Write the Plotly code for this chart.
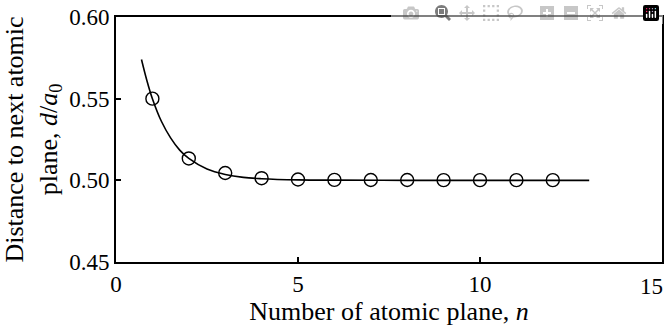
import plotly.graph_objects as go

# Measured points (open circles)
n_points = [1, 2, 3, 4, 5, 6, 7, 8, 9, 10, 11, 12]
d_points = [0.550, 0.5134, 0.5045, 0.5013, 0.5005, 0.5003, 0.5002, 0.5002, 0.5001, 0.5001, 0.5001, 0.5001]

# Fitted curve, values
n_curve = [0.7, 0.85, 1.0, 1.25, 1.5, 1.75, 2.0, 2.5, 3.0, 3.5, 4.0, 5.0, 6.0, 8.0, 10.0, 13.0]
d_curve = [0.574, 0.561, 0.550, 0.536, 0.526, 0.5185, 0.5134, 0.5069, 0.5036, 0.5018, 0.5010, 0.5003, 0.5001, 0.5000, 0.5000, 0.5000]

x_range = [0, 15]
x_ticks = [0, 5, 10]
x_ticktext = ["0", "5", "10"]
# the last x label sits at the right edge of the picture, right-aligned to its tick
x_edge_tick = 15
x_edge_text = "15"
y_ticks = [0.45, 0.50, 0.55, 0.60]
y_ticktext = ["0.45", "0.50", "0.55", "0.60"]

FONT = "Liberation Serif"
TICK_SIZE = 23
TITLE_SIZE = 26

fig = go.Figure()
fig.add_trace(go.Scatter(x=n_curve, y=d_curve, mode="lines", line=dict(color="black", width=1.6, shape="spline"),
                         hoverinfo="skip", showlegend=False))
fig.add_trace(go.Scatter(x=n_points, y=d_points, mode="markers",
                         marker=dict(symbol="circle-open", size=13, color="black", line=dict(width=1.4, color="black")),
                         showlegend=False))

fig.update_layout(
    width=665, height=335,
    margin=dict(l=116, r=3, t=17, b=73),
    paper_bgcolor="white", plot_bgcolor="white",
    font=dict(family=FONT, size=TICK_SIZE, color="black"),
)
fig.update_xaxes(
    range=x_range, tickvals=x_ticks, ticktext=x_ticktext,
    showline=True, linecolor="black", linewidth=2, mirror=True,
    ticks="inside", ticklen=5, tickwidth=1.5, tickcolor="black",
    showgrid=False, zeroline=False, automargin=False,
    tickfont=dict(family=FONT, size=TICK_SIZE, color="black"),
    title=dict(text="Number of atomic plane, <i>n</i>", font=dict(family=FONT, size=TITLE_SIZE, color="black"), standoff=6),
)
fig.add_annotation(
    x=x_edge_tick, xref="x", y=0, yref="paper", text=x_edge_text, showarrow=False,
    xanchor="right", yanchor="middle", xshift=3, yshift=-24,
    font=dict(family=FONT, size=TICK_SIZE, color="black"),
)
fig.update_yaxes(
    range=[0.45, 0.60], tickvals=y_ticks, ticktext=y_ticktext,
    showline=True, linecolor="black", linewidth=2, mirror=True,
    ticks="inside", ticklen=5, tickwidth=1.5, tickcolor="black",
    showgrid=False, zeroline=False, automargin=False,
    tickfont=dict(family=FONT, size=TICK_SIZE, color="black"),
    title=dict(text="Distance to next atomic<br>plane, <i>d</i>/<i>a</i><sub>0</sub>",
               font=dict(family=FONT, size=TITLE_SIZE, color="black"), standoff=10),
)

# remove the browser's default page margin so the 665x335 figure fills the window exactly
fig.write_html("out.html", post_script="document.body.style.margin='0px';document.body.style.overflow='hidden';")
